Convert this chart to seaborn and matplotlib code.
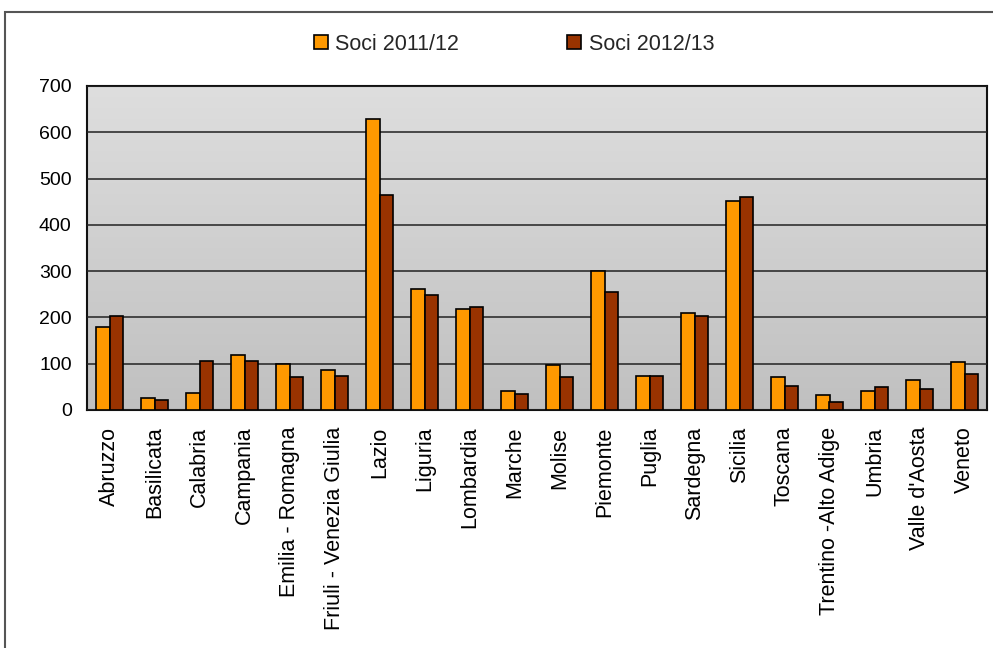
import numpy as np
import pandas as pd
import matplotlib
matplotlib.use("Agg")
import matplotlib.pyplot as plt
import seaborn as sns
from matplotlib.patches import Rectangle

regions = ["Abruzzo", "Basilicata", "Calabria", "Campania", "Emilia - Romagna",
           "Friuli - Venezia Giulia", "Lazio", "Liguria", "Lombardia", "Marche",
           "Molise", "Piemonte", "Puglia", "Sardegna", "Sicilia", "Toscana",
           "Trentino -Alto Adige", "Umbria", "Valle d'Aosta", "Veneto"]
soci_2011 = [180, 25, 36, 119, 100, 87, 629, 261, 219, 42, 97, 300, 74, 210, 451, 71, 32, 42, 65, 104]
soci_2012 = [203, 22, 106, 106, 72, 74, 464, 248, 222, 35, 71, 255, 74, 204, 461, 52, 17, 49, 45, 78]
series = ["Soci 2011/12", "Soci 2012/13"]
colors = ["#FF9900", "#993300"]
yticks = [0, 100, 200, 300, 400, 500, 600, 700]

df = pd.DataFrame({
    "Regione": regions * 2,
    "Soci": soci_2011 + soci_2012,
    "Serie": [series[0]] * len(regions) + [series[1]] * len(regions),
})

sns.set_theme(style="white")
plt.rcParams["font.family"] = ["Liberation Sans", "DejaVu Sans"]

W, H = 993, 648
fig = plt.figure(figsize=(W / 100, H / 100), dpi=100)
fig.patch.set_facecolor("white")
ax = fig.add_axes([87 / W, 1 - 410 / H, (987 - 87) / W, (410 - 86) / H])

# gradient background of plot area
grad = np.linspace(0, 1, 256).reshape(-1, 1)
cmap = matplotlib.colors.LinearSegmentedColormap.from_list("g", ["#dedede", "#c0c0c0"])
ax.imshow(grad, extent=[-0.5, len(regions) - 0.5, 0, 700], aspect="auto",
          cmap=cmap, zorder=0, origin="upper")

sns.barplot(data=df, x="Regione", y="Soci", hue="Serie", palette=colors,
            width=0.6, edgecolor="black", linewidth=1.2, saturation=1,
            ax=ax, zorder=3, legend=True)

ax.set_xlim(-0.5, len(regions) - 0.5)
ax.set_ylim(0, 700)
ax.set_yticks(yticks)
ax.set_yticklabels([str(v) for v in yticks], fontsize=14)
ax.yaxis.grid(True, color="#222222", linewidth=1.1, zorder=1)
ax.set_axisbelow(False)
for gl in ax.get_ygridlines():
    gl.set_zorder(1)
ax.set_xlabel("")
ax.set_ylabel("")

# category labels at centers, tick marks at boundaries
ax.set_xticks(range(len(regions)))
ax.set_xticklabels(regions, rotation=90, fontsize=15.5, color="black")
ax.tick_params(axis="x", which="major", length=0, pad=12)
ax.set_xticks(np.arange(-0.5, len(regions), 1), minor=True)
ax.tick_params(axis="x", which="minor", length=7, width=1, color="#222222", direction="out")
ax.tick_params(axis="y", length=6, width=1, color="#222222", direction="out", pad=5, labelcolor="black")
for s in ax.spines.values():
    s.set_visible(True)
    s.set_color("#111111")
    s.set_linewidth(1.5)

# legend
handles, labels = ax.get_legend_handles_labels()
ax.get_legend().remove()
fig.legend(handles, labels, loc="center", bbox_to_anchor=(514 / W, 1 - 44 / H),
           ncol=2, frameon=False, fontsize=15.5, handlelength=0.65, handleheight=0.65,
           handletextpad=0.35, columnspacing=5.0)

# outer chart frame (cropped at right/bottom)
frame = Rectangle((5 / W, -0.05), 1.1, (1 - 12 / H) + 0.05, transform=fig.transFigure,
                  fill=False, edgecolor="#555555", linewidth=1.5)
fig.patches.append(frame)

fig.savefig("out.png", dpi=100)
